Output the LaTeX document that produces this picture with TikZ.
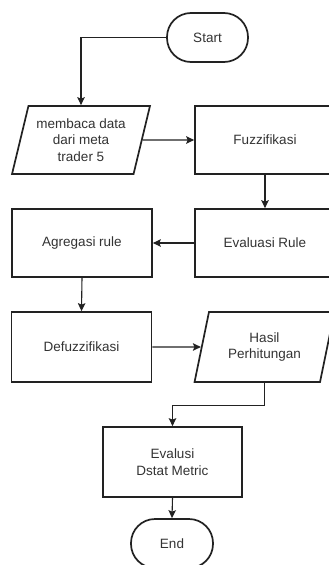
\documentclass[tikz,border=0pt]{standalone}
\usepackage{fontspec}
\setmainfont{Liberation Sans}
\usetikzlibrary{shapes.geometric,arrows.meta,calc}
\definecolor{ln}{HTML}{222222}
\definecolor{tx}{HTML}{333333}
\begin{document}
\begin{tikzpicture}[x=1pt,y=1pt,
  every node/.style={font=\fontsize{13.5}{16.5}\selectfont, text=tx, align=center},
  box/.style={draw=ln, line width=1.7pt, minimum width=140, minimum height=#1, inner sep=0},
  box/.default=68,
  para/.style={draw=ln, line width=1.7pt, trapezium, trapezium left angle=72, trapezium right angle=108,
    trapezium stretches=true, minimum width=138, minimum height=#1, inner sep=0},
  para/.default=68,
  term/.style={draw=ln, line width=1.7pt, rounded corners=24pt, minimum width=#1, minimum height=49, inner sep=0},
  arr/.style={draw=ln, line width=1.1pt, -{Stealth[length=8pt,width=7.5pt,inset=1.5pt]}}]
\useasboundingbox (0,0) rectangle (329,-565);
\fill[white] (0,0) rectangle (329,-565);
\node[term=81] (start) at (207.5,-37.5) {Start};
\node[para] (read) at (81,-140) {membaca data\\dari meta\\trader 5};
\node[box] (fuzz) at (265,-140) {Fuzzifikasi};
\node[box] (evr) at (265,-243) {Evaluasi Rule};
\node[box] (agr) at (82,-243) {Agregasi rule};
\node[box=70] (def) at (81.5,-347) {Defuzzifikasi};
\node[para=70, minimum width=140] (hasil) at (264.5,-347) {Hasil\\Perhitungan};
\node[box=70, minimum width=139] (eval) at (172.5,-462) {Evalusi\\Dstat Metric};
\node[term=82] (end) at (172,-543.5) {End};
\draw[arr] (start.west) -| (read.north);
\draw[arr] (read.east) -- (fuzz.west);
\draw[arr] (fuzz.south) -- (evr.north);
\draw[arr] (evr.west) -- (agr.east);
\draw[arr] (agr.south) -- (def.north);
\draw[arr] (def.east) -- (hasil.west);
\draw[arr] (hasil.south) -- ++(0,-23) -| (eval.north);
\draw[arr] (eval.south) -- (end.north);
\end{tikzpicture}
\end{document}
